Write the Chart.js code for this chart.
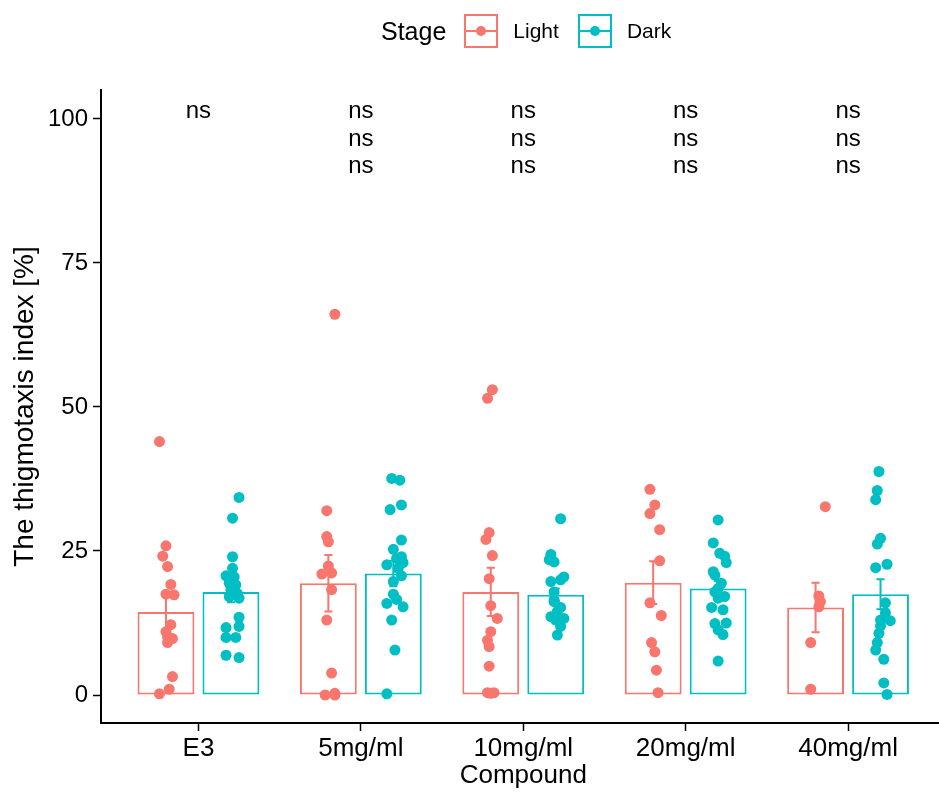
<!DOCTYPE html>
<html>
<head>
<meta charset="utf-8">
<script src="https://cdn.jsdelivr.net/npm/chart.js@4.4.1/dist/chart.umd.min.js"></script>
<style>
  html, body { margin: 0; background: #fff; font-family: "Liberation Sans", Arial, sans-serif; overflow: hidden; }
  #wrap { position: relative; width: 939px; height: 793px; overflow: hidden; }
  #legend { position: absolute; top: 14px; left: 381px; display: flex; align-items: center; height: 34px; color: #000; }
  #legend .title { font-size: 25px; margin-right: 18px; }
  #legend .key { position: relative; width: 30px; height: 30px; border: 2px solid; margin-right: 15px; }
  #legend .key .ln { position: absolute; left: 0; right: 0; top: 14px; height: 2px; }
  #legend .key .dot { position: absolute; left: 10px; top: 10px; width: 10px; height: 10px; border-radius: 50%; }
  #legend .lab { font-size: 21px; margin-right: 19px; }
</style>
</head>
<body>
<div id="wrap">
  <canvas id="chart" width="951" height="793"></canvas>
  <div id="legend"></div>
</div>
<script>
// categories and tick labels
const compounds = ['E3', '5mg/ml', '10mg/ml', '20mg/ml', '40mg/ml'];
const yTicks = [0, 25, 50, 75, 100];
const stages = ['Light', 'Dark'];
const stageColors = ['#F8766D', '#00BFC4'];

// bar heights (mean) and standard errors
const lightMean = [14.4, 19.4, 17.9, 19.5, 15.2];
const lightSE = [3.3, 4.9, 4.2, 3.7, 4.3];
const darkMean = [17.9, 21.1, 17.4, 18.5, 17.5];
const darkSE = [1.8, 2.2, 1.1, 1.3, 2.6];

// individual values per compound
const lightValues = [
    [44.0, 25.9, 24.1, 22.3, 19.2, 17.5, 17.4, 12.2, 11.0, 10.1, 9.8, 9.1, 3.2, 1.0, 0.2],
    [66.1, 32.0, 27.5, 26.6, 22.4, 21.0, 21.2, 18.3, 13.0, 3.8, 0.0, 0.0, 0.3],
    [53.0, 51.5, 28.2, 27.0, 24.2, 20.2, 15.5, 13.3, 11.0, 9.5, 8.4, 5.0, 0.4, 0.4, 0.3],
    [35.7, 33.0, 31.5, 28.7, 23.3, 16.0, 13.8, 9.1, 7.5, 4.3, 0.4],
    [32.7, 17.2, 16.2, 15.3, 9.1, 1.0]
];
// horizontal jitter (category units)
const lightJitter = [
    [-0.04, 0.00, -0.02, 0.01, 0.03, 0.00, 0.05, 0.03, 0.00, 0.01, 0.04, 0.01, 0.04, 0.02, -0.04],
    [0.04, -0.01, -0.01, 0.00, 0.00, -0.04, 0.02, 0.02, -0.01, 0.02, -0.02, 0.04, 0.04],
    [0.01, -0.02, -0.01, -0.03, 0.01, -0.01, 0.00, 0.04, 0.00, -0.02, -0.01, -0.01, -0.02, 0.02, 0.00],
    [-0.02, 0.01, -0.02, 0.04, 0.04, -0.02, 0.05, -0.01, 0.01, 0.02, 0.03],
    [0.06, 0.02, 0.03, 0.02, -0.03, -0.03]
];
const darkValues = [
    [34.3, 30.7, 24.0, 22.0, 20.7, 20.5, 19.4, 19.1, 18.2, 17.6, 17.1, 16.8, 13.5, 11.7, 11.9, 10.0, 10.0, 6.9, 6.5],
    [37.6, 37.3, 33.0, 32.2, 26.9, 25.3, 24.0, 23.7, 23.0, 22.6, 22.0, 20.7, 19.7, 17.5, 16.6, 15.9, 15.3, 13.0, 7.8, 0.2],
    [30.6, 24.4, 23.5, 23.1, 20.5, 20.0, 19.7, 17.9, 16.5, 16.2, 15.2, 14.5, 13.6, 13.3, 13.0, 11.9, 10.4],
    [30.4, 26.4, 24.6, 24.1, 23.0, 21.4, 20.8, 19.4, 18.5, 17.9, 17.1, 16.8, 15.2, 14.8, 12.4, 12.5, 11.3, 10.5, 5.9],
    [38.8, 35.5, 33.9, 27.2, 26.2, 22.7, 22.1, 16.0, 14.3, 13.0, 12.9, 12.0, 10.7, 9.1, 7.8, 6.2, 2.1, 0.1]
];
const darkJitter = [
    [0.05, 0.01, 0.01, 0.01, -0.03, 0.02, -0.01, 0.03, 0.00, 0.04, -0.01, 0.05, 0.05, -0.03, 0.05, -0.03, 0.03, -0.03, 0.05],
    [-0.01, 0.04, 0.05, -0.02, 0.05, 0.00, 0.05, 0.02, 0.06, -0.04, 0.03, 0.05, 0.00, 0.00, 0.02, -0.04, 0.06, -0.01, 0.01, -0.04],
    [0.03, -0.03, -0.04, -0.01, 0.05, 0.03, -0.03, -0.01, -0.01, -0.01, 0.03, 0.01, -0.03, 0.05, 0.00, 0.03, 0.01],
    [0.00, -0.03, 0.01, 0.04, 0.05, -0.03, -0.02, 0.02, 0.00, -0.02, 0.04, 0.00, -0.04, 0.03, -0.02, 0.05, 0.00, 0.03, 0.00],
    [-0.01, -0.02, -0.03, 0.00, -0.02, 0.04, -0.03, 0.03, 0.03, 0.00, 0.06, 0.00, -0.01, -0.02, -0.03, 0.02, 0.02, 0.04]
];

// significance labels
const nsLabels = [['ns'], ['ns', 'ns', 'ns'], ['ns', 'ns', 'ns'], ['ns', 'ns', 'ns'], ['ns', 'ns', 'ns']];
const nsLevels = [101.4, 96.5, 91.8];

const dodge = 0.2;
const FONT = '"Liberation Sans", Arial, sans-serif';

// legend
const legendEl = document.getElementById('legend');
legendEl.innerHTML = '<span class="title">Stage</span>' + stages.map((s, i) =>
    `<span class="key" style="border-color:${stageColors[i]}"><span class="ln" style="background:${stageColors[i]}"></span><span class="dot" style="background:${stageColors[i]}"></span></span><span class="lab">${s}</span>`
).join('');

function barData(means, side) {
    return means.map((m, i) => ({ x: i + 1 + side * dodge, y: m }));
}
function pointData(values, jitter, side) {
    const out = [];
    values.forEach((arr, i) => {
        arr.forEach((v, j) => out.push({ x: i + 1 + side * dodge + jitter[i][j], y: v }));
    });
    return out;
}

const errorBars = {
    id: 'errorBars',
    afterDatasetDraw(chart, args) {
        const ds = chart.data.datasets[args.index];
        if (!ds.se) return;
        const { ctx, scales: { x, y } } = chart;
        ctx.save();
        ctx.strokeStyle = ds.borderColor;
        ctx.lineWidth = 2;
        ds.data.forEach((d, i) => {
            const px = x.getPixelForValue(d.x);
            const cap = x.getPixelForValue(d.x + 0.025) - px;
            const top = y.getPixelForValue(d.y + ds.se[i]);
            const bot = y.getPixelForValue(d.y - ds.se[i]);
            ctx.beginPath();
            ctx.moveTo(px, top); ctx.lineTo(px, bot);
            ctx.moveTo(px - cap, top); ctx.lineTo(px + cap, top);
            ctx.moveTo(px - cap, bot); ctx.lineTo(px + cap, bot);
            ctx.stroke();
        });
        ctx.restore();
    }
};

const nsText = {
    id: 'nsText',
    afterDatasetsDraw(chart) {
        const { ctx, scales: { x, y } } = chart;
        ctx.save();
        ctx.fillStyle = '#000';
        ctx.font = '24px ' + FONT;
        ctx.textAlign = 'center';
        ctx.textBaseline = 'middle';
        nsLabels.forEach((labels, i) => {
            labels.forEach((t, k) => {
                ctx.fillText(t, x.getPixelForValue(i + 1), y.getPixelForValue(nsLevels[k]));
            });
        });
        ctx.restore();
    }
};

const barStyle = {
    backgroundColor: '#fff', borderWidth: 2, borderSkipped: false,
    order: 2, grouped: false, barPercentage: 0.875, categoryPercentage: 1
};

new Chart(document.getElementById('chart'), {
    type: 'bar',
    data: {
        datasets: [
            Object.assign({ label: 'Light', data: barData(lightMean, -1), se: lightSE, borderColor: stageColors[0] }, barStyle),
            Object.assign({ label: 'Dark', data: barData(darkMean, 1), se: darkSE, borderColor: stageColors[1] }, barStyle),
            {
                type: 'scatter', label: 'Light points', data: pointData(lightValues, lightJitter, -1),
                backgroundColor: stageColors[0], borderColor: stageColors[0], pointRadius: 5.5, borderWidth: 0, order: 1
            },
            {
                type: 'scatter', label: 'Dark points', data: pointData(darkValues, darkJitter, 1),
                backgroundColor: stageColors[1], borderColor: stageColors[1], pointRadius: 5.5, borderWidth: 0, order: 1
            }
        ]
    },
    options: {
        responsive: false,
        animation: false,
        layout: { padding: { top: 90, left: 0, right: 0, bottom: 0 } },
        plugins: { legend: { display: false }, tooltip: { enabled: false } },
        scales: {
            x: {
                type: 'linear',
                offset: false,
                min: 0.4,
                max: 5.6,
                afterBuildTicks: (scale) => { scale.ticks = compounds.map((c, i) => ({ value: i + 1 })); },
                afterFit: (scale) => { scale.height = 70; },
                ticks: {
                    callback: (v) => compounds[v - 1],
                    color: '#000',
                    font: { family: FONT, size: 26 },
                    padding: 2,
                    maxRotation: 0,
                    autoSkip: false
                },
                grid: { offset: false, drawOnChartArea: false, drawTicks: true, tickLength: 8, tickColor: '#000', tickWidth: 1.5 },
                border: { display: true, color: '#000', width: 2 },
                title: { display: true, text: 'Compound', color: '#000', font: { family: FONT, size: 26 }, padding: { top: 0, bottom: 2 } }
            },
            y: {
                min: -4.86,
                max: 105.03,
                afterBuildTicks: (scale) => { scale.ticks = yTicks.map(v => ({ value: v })); },
                afterFit: (scale) => { scale.width = 101; },
                ticks: { color: '#000', font: { family: FONT, size: 24 }, padding: 5 },
                grid: { drawOnChartArea: false, drawTicks: true, tickLength: 8, tickColor: '#000', tickWidth: 1.5 },
                border: { display: true, color: '#000', width: 2 },
                title: { display: true, text: 'The thigmotaxis index [%]', color: '#000', font: { family: FONT, size: 28 }, padding: { top: 8, bottom: 0 } }
            }
        }
    },
    plugins: [errorBars, nsText]
});
</script>
</body>
</html>
